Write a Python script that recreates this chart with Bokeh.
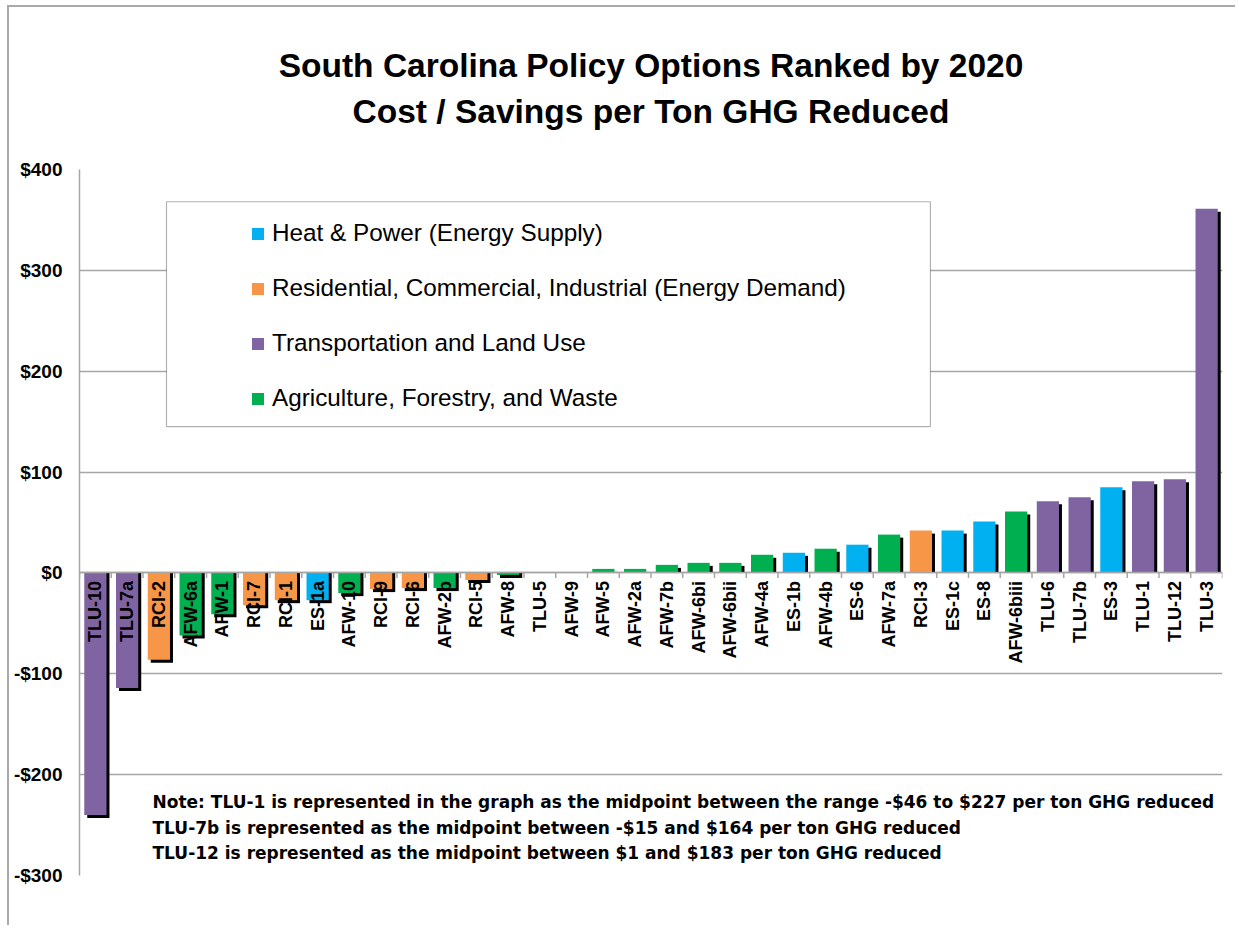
import numpy as np
from bokeh.plotting import figure
from bokeh.models import (ColumnDataSource, FactorRange, Range1d, CategoricalAxis, LinearAxis,
                          FixedTicker, Legend, LegendItem, BoxAnnotation, Label, Title, CDSView, GroupFilter)
from bokeh.transform import dodge
from bokeh.embed import file_html
from bokeh.resources import INLINE

categories = ["TLU-10", "TLU-7a", "RCI-2", "AFW-6a", "AFW-1", "RCI-7", "RCI-1", "ES-1a", "AFW-10",
              "RCI-9", "RCI-6", "AFW-2b", "RCI-5", "AFW-8", "TLU-5", "AFW-9", "AFW-5", "AFW-2a",
              "AFW-7b", "AFW-6bi", "AFW-6bii", "AFW-4a", "ES-1b", "AFW-4b", "ES-6", "AFW-7a",
              "RCI-3", "ES-1c", "ES-8", "AFW-6biii", "TLU-6", "TLU-7b", "ES-3", "TLU-1", "TLU-12", "TLU-3"]
values = [-240, -114, -86, -62, -41, -32, -27, -27, -20,
          -16, -15, -15, -7, -2, 0, 0, 4, 4,
          8, 10, 10, 18, 20, 24, 28, 38,
          42, 42, 51, 61, 71, 75, 85, 91, 93, 361]
sectors = ["TLU", "TLU", "RCI", "AFW", "AFW", "RCI", "RCI", "ES", "AFW",
           "RCI", "RCI", "AFW", "RCI", "AFW", "TLU", "AFW", "AFW", "AFW",
           "AFW", "AFW", "AFW", "AFW", "ES", "AFW", "ES", "AFW",
           "RCI", "ES", "ES", "AFW", "TLU", "TLU", "ES", "TLU", "TLU", "TLU"]
sector_names = ["ES", "RCI", "TLU", "AFW"]
sector_labels = ["Heat & Power (Energy Supply)",
                 "Residential, Commercial, Industrial (Energy Demand)",
                 "Transportation and Land Use",
                 "Agriculture, Forestry, and Waste"]
sector_colors = ["#00B0F0", "#F79646", "#8064A2", "#00B050"]
y_ticks = [-300, -200, -100, 0, 100, 200, 300, 400]
title_lines = ["South Carolina Policy Options Ranked by 2020", "Cost / Savings per Ton GHG Reduced"]
notes = ["Note: TLU-1 is represented in the graph as the midpoint between the range -$46 to $227 per ton GHG reduced",
         "TLU-7b is represented as the midpoint between -$15 and $164 per ton GHG reduced",
         "TLU-12 is represented as the midpoint between $1 and $183 per ton GHG reduced"]

SH = 3  # shadow offset (data units ~ px)
vals = np.array(values, dtype=float)
sh_top = np.where(vals > 0, vals - SH, 0)
sh_bot = np.where(vals > 0, 0, vals - SH)
sh_alpha = np.where(vals == 0, 0.0, 1.0)

src = ColumnDataSource(dict(cat=categories, val=values, sector=sectors,
                            sh_top=sh_top, sh_bot=sh_bot, sh_alpha=sh_alpha))

p = figure(width=1228, height=920, x_range=FactorRange(*categories), y_range=Range1d(-300, 400),
           output_backend="svg", toolbar_location=None, x_axis_location=None, y_axis_location=None,
           min_border_left=70, min_border_right=15, min_border_top=162, min_border_bottom=52)
p.styles = {"border-left": "2px solid #aaaaaa", "border-top": "2px solid #aaaaaa",
            "margin-left": "7px", "margin-top": "5px"}
p.outline_line_color = None
p.xgrid.grid_line_color = None
p.ygrid.grid_line_color = "#a6a6a6"
p.ygrid.grid_line_width = 1.5
p.ygrid.ticker = FixedTicker(ticks=y_ticks)

yaxis = LinearAxis(ticker=FixedTicker(ticks=y_ticks),
                   major_label_overrides={t: ("-$%d" % -t if t < 0 else "$%d" % t) for t in y_ticks})
yaxis.axis_line_color = "#a6a6a6"
yaxis.axis_line_width = 1.5
yaxis.major_tick_line_color = None
yaxis.minor_tick_line_color = None
yaxis.major_tick_out = 0
yaxis.major_tick_in = 0
yaxis.major_label_standoff = 17
yaxis.major_label_text_font = "Liberation Sans"
yaxis.major_label_text_font_style = "bold"
yaxis.major_label_text_font_size = "19px"
yaxis.major_label_text_color = "black"
p.add_layout(yaxis, "left")

# shadows
p.vbar(x=dodge("cat", 0.094, range=p.x_range), top="sh_top", bottom="sh_bot", width=0.7,
       source=src, fill_color="black", line_color=None, fill_alpha="sh_alpha")

rends = []
for s, c in zip(sector_names, sector_colors):
    view = CDSView(filter=GroupFilter(column_name="sector", group=s))
    r = p.vbar(x="cat", top="val", bottom=0, width=0.7, source=src, view=view,
               fill_color=c, line_color=None)
    rends.append(r)

# boundary ticks on the zero line
bounds = list(range(len(categories) + 1))
p.segment(x0=bounds, x1=bounds, y0=[0] * len(bounds), y1=[-5] * len(bounds),
          line_color="#a6a6a6", line_width=1.5)

xaxis = CategoricalAxis(fixed_location=0)
xaxis.axis_line_color = "#a6a6a6"
xaxis.axis_line_width = 1.5
xaxis.major_tick_line_color = None
xaxis.minor_tick_line_color = None
xaxis.major_tick_out = 0
xaxis.major_tick_in = 0
xaxis.major_label_orientation = np.pi / 2
xaxis.major_label_standoff = 8
xaxis.major_label_text_font = "Liberation Sans"
xaxis.major_label_text_font_style = "bold"
xaxis.major_label_text_font_size = "18px"
xaxis.major_label_text_color = "black"
p.add_layout(xaxis, "below")

box = BoxAnnotation(left=2.74, right=26.8, top=368, bottom=145, fill_color="white", fill_alpha=1,
                    line_color="black", line_width=1.2)
p.add_layout(box)

legend = Legend(items=[LegendItem(label=l, renderers=[r]) for l, r in zip(sector_labels, rends)],
                location=(171, 463), padding=0, margin=0, spacing=27, glyph_width=15, glyph_height=15,
                label_standoff=7, border_line_color=None, background_fill_alpha=0,
                label_text_font="Liberation Sans", label_text_font_size="24.3px",
                label_text_color="black")
p.add_layout(legend, "center")

for i, t in enumerate(notes):
    p.add_layout(Label(x=2.3, y=-227 - 25.5 * i, text=t, text_font="DejaVu Sans", text_font_style="bold",
                       text_font_size="17px", text_baseline="middle", text_color="black"))

p.add_layout(Title(text="\n".join(title_lines), align="center", text_align="center", vertical_align="top",
                   text_font="Liberation Sans", text_font_style="bold", text_line_height=1.25,
                   text_font_size="33.5px", text_color="black", standoff=75), "above")

open("out.html", "w").write(file_html(p, INLINE))
